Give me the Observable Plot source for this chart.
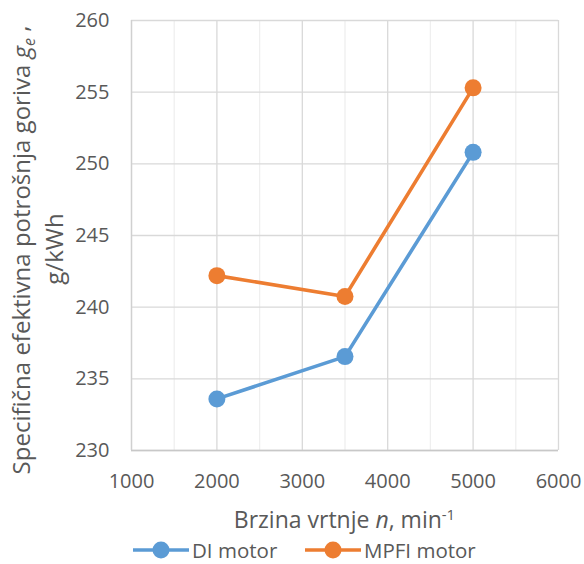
<!DOCTYPE html>
<html>
<head>
<meta charset="utf-8">
<script src="https://cdn.jsdelivr.net/npm/d3@7"></script>
<script src="https://cdn.jsdelivr.net/npm/@observablehq/plot@0.6"></script>
<style>
  html, body { margin: 0; padding: 0; background: #fff; overflow: hidden; }
  #wrap { position: relative; width: 584px; height: 564px; font-family: "Open Sans", sans-serif; color: #595959; overflow: hidden; }
  #legend { position: absolute; left: 0; top: 536px; width: 584px; height: 28px; }
  .item { position: absolute; top: 0; display: flex; align-items: center; height: 28px; font-size: 20.5px; }
</style>
</head>
<body>
<div id="wrap"></div>
<script>
// ---- data ----
const rpm = [2000, 3500, 5000];
const diMotor = [233.6, 236.55, 250.8];
const mpfiMotor = [242.2, 240.75, 255.3];
const seriesNames = ["DI motor", "MPFI motor"];
const seriesColors = ["#5B9BD5", "#ED7D31"];
const xTicks = [1000, 2000, 3000, 4000, 5000, 6000];
const xMinorTicks = [1500, 2500, 3500, 4500, 5500];
const yTicks = [230, 235, 240, 245, 250, 255, 260];

const rows = [];
rpm.forEach((n, i) => {
  rows.push({series: seriesNames[0], n, g: diMotor[i]});
  rows.push({series: seriesNames[1], n, g: mpfiMotor[i]});
});

const W = 584, H = 536;
const chart = Plot.plot({
  width: W,
  height: H,
  marginLeft: 131,
  marginRight: 26,
  marginTop: 20,
  marginBottom: 86,
  style: {fontFamily: "'Open Sans', sans-serif", fontSize: "20px", color: "#595959", background: "#fff", overflow: "visible"},
  x: {domain: [1000, 6000], ticks: xTicks, tickSize: 0, tickPadding: 23, tickFormat: d => String(d), label: null},
  y: {domain: [230, 260], ticks: yTicks, tickSize: 0, tickPadding: 22, tickFormat: d => String(d), label: null},
  color: {domain: seriesNames, range: seriesColors},
  marks: [
    Plot.ruleX(xMinorTicks, {stroke: "#efefef", strokeWidth: 1.3}),
    Plot.ruleX(xTicks, {stroke: "#d9d9d9", strokeWidth: 1.3}),
    Plot.ruleY(yTicks, {stroke: "#d9d9d9", strokeWidth: 1.3}),
    Plot.ruleY([yTicks[0]], {stroke: "#c8c8c8", strokeWidth: 1.3}),
    Plot.ruleX([xTicks[0]], {stroke: "#d0d0d0", strokeWidth: 1.3}),
    Plot.axisX({ticks: xTicks, tickSize: 0, tickPadding: 23, tickFormat: d => String(d), label: null, fill: "#595959"}),
    Plot.axisY({ticks: yTicks, tickSize: 0, tickPadding: 22, tickFormat: d => String(d), label: null, fill: "#595959"}),
    Plot.line(rows, {x: "n", y: "g", z: "series", stroke: "series", strokeWidth: 3.6}),
    Plot.dot(rows, {x: "n", y: "g", fill: "series", r: 8.5})
  ]
});

const svg = d3.select(chart);
// x-axis title
const xt = svg.append("text")
  .attr("x", 344.5).attr("y", 528)
  .attr("text-anchor", "middle")
  .attr("fill", "#595959")
  .style("font-size", "23px");
xt.append("tspan").text("Brzina vrtnje ");
xt.append("tspan").style("font-style", "italic").text("n");
xt.append("tspan").text(", min");
xt.append("tspan").attr("dy", "-0.55em").style("font-size", "15px").text("-1");

// y-axis title (two lines, rotated)
const yt = svg.append("text")
  .attr("transform", "translate(30,250) rotate(-90)")
  .attr("text-anchor", "middle")
  .attr("fill", "#595959")
  .style("font-size", "24px");
yt.append("tspan").text("Specifična efektivna potrošnja goriva ");
yt.append("tspan").style("font-style", "italic").text("g");
yt.append("tspan").style("font-style", "italic").style("font-size", "16px").attr("dy", "0.3em").text("e");
yt.append("tspan").attr("dy", "-0.3em").text(" ,");
svg.append("text")
  .attr("transform", "translate(63,249) rotate(-90)")
  .attr("text-anchor", "middle")
  .attr("fill", "#595959")
  .style("font-size", "24px")
  .text("g/kWh");

const wrap = document.getElementById("wrap");
wrap.appendChild(chart);

// legend
const legend = document.createElement("div");
legend.id = "legend";
const lefts = [133, 305];
seriesNames.forEach((name, i) => {
  const item = document.createElement("div");
  item.className = "item";
  item.style.left = lefts[i] + "px";
  const sw = d3.create("svg").attr("width", 56).attr("height", 20).style("overflow", "visible");
  sw.append("line").attr("x1", 0).attr("x2", 56).attr("y1", 10).attr("y2", 10)
    .attr("stroke", seriesColors[i]).attr("stroke-width", 3.6);
  sw.append("circle").attr("cx", 28).attr("cy", 10).attr("r", 8.5).attr("fill", seriesColors[i]);
  item.appendChild(sw.node());
  const label = document.createElement("span");
  label.textContent = name;
  label.style.marginLeft = "3px";
  item.appendChild(label);
  legend.appendChild(item);
});
wrap.appendChild(legend);
</script>
</body>
</html>
